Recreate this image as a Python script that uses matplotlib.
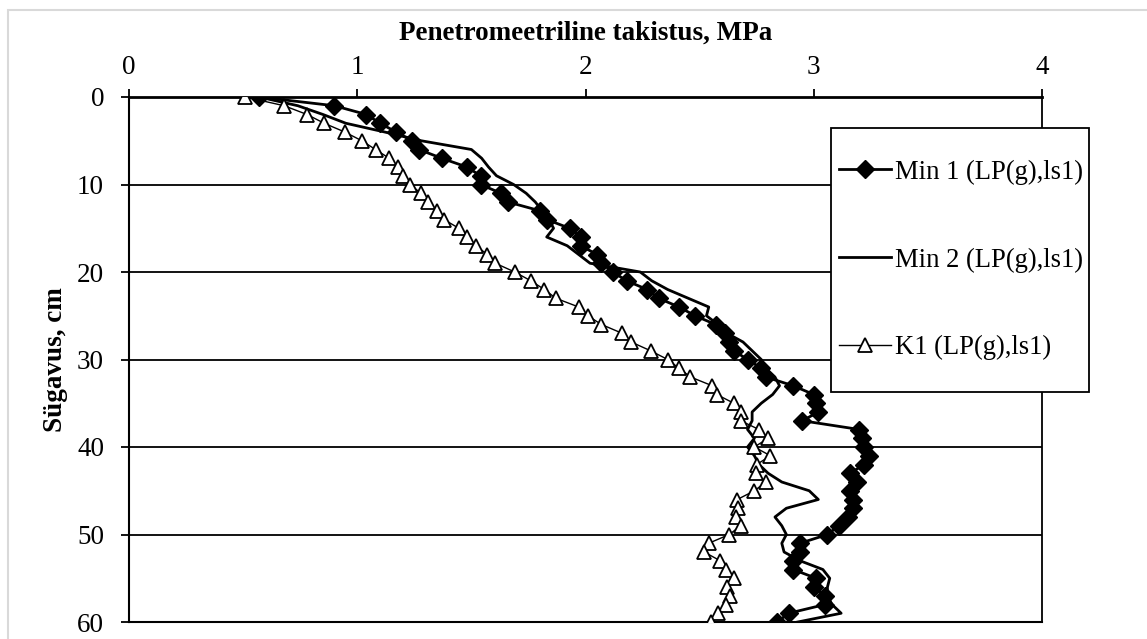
import matplotlib
matplotlib.use('Agg')
import matplotlib.pyplot as plt
from matplotlib.patches import Rectangle

# sügavus, cm (iga 1 cm tagant)
depth = list(range(61))

min1 = [0.57, 0.90, 1.04, 1.10, 1.17, 1.24, 1.27, 1.37, 1.48, 1.54,
        1.54, 1.63, 1.66, 1.80, 1.83, 1.93, 1.98, 1.98, 2.05, 2.07,
        2.12, 2.18, 2.27, 2.32, 2.41, 2.48, 2.57, 2.61, 2.63, 2.65,
        2.71, 2.77, 2.79, 2.91, 3.00, 3.01, 3.02, 2.95, 3.20, 3.21,
        3.22, 3.24, 3.22, 3.16, 3.19, 3.16, 3.17, 3.17, 3.15, 3.11,
        3.06, 2.94, 2.94, 2.91, 2.91, 3.01, 3.00, 3.05, 3.05, 2.89,
        2.84]

min2 = [0.57, 0.74, 0.85, 0.95, 1.12, 1.28, 1.50, 1.545, 1.575, 1.61,
        1.685, 1.74, 1.78, 1.81, 1.84, 1.86, 1.83, 1.92, 1.97, 2.02,
        2.24, 2.29, 2.36, 2.45, 2.54, 2.53, 2.58, 2.62, 2.69, 2.73,
        2.77, 2.79, 2.83, 2.85, 2.82, 2.77, 2.73, 2.73, 2.71, 2.74,
        2.71, 2.74, 2.76, 2.80, 2.86, 2.98, 3.02, 2.88, 2.83, 2.86,
        2.88, 2.86, 2.87, 2.94, 3.04, 3.07, 3.06, 3.06, 3.08, 3.12,
        2.93]

k1 = [0.51, 0.68, 0.78, 0.855, 0.945, 1.02, 1.08, 1.14, 1.18, 1.20,
      1.23, 1.28, 1.31, 1.35, 1.38, 1.445, 1.48, 1.52, 1.57, 1.605,
      1.69, 1.76, 1.82, 1.87, 1.97, 2.01, 2.07, 2.16, 2.20, 2.285,
      2.36, 2.41, 2.46, 2.555, 2.575, 2.65, 2.68, 2.68, 2.76, 2.80,
      2.74, 2.81, 2.75, 2.745, 2.79, 2.74, 2.665, 2.67, 2.66, 2.68,
      2.63, 2.54, 2.52, 2.59, 2.615, 2.65, 2.62, 2.635, 2.615, 2.58,
      2.55]

x_ticks = [0, 1, 2, 3, 4]
y_ticks = [0, 10, 20, 30, 40, 50, 60]

plt.rcParams['font.family'] = ['Liberation Serif', 'DejaVu Serif']
fs = 19.5

W, H = 1147, 639
fig = plt.figure(figsize=(W / 100, H / 100), dpi=100)

# hall raam ümber joonise
fig.patches.append(Rectangle((8 / W, -0.1), 1.2, 1 - 10 / H + 0.1, transform=fig.transFigure,
                             fill=False, edgecolor='#d9d9d9', lw=1.5))

ax = fig.add_axes([129 / W, 1 - 622 / H, (1042 - 129) / W, (622 - 97) / H])

l1, = ax.plot(min1, depth, color='black', lw=2, marker='D', ms=9, zorder=4,
              label='Min 1 (LP(g),ls1)')
l2, = ax.plot(min2, depth, color='black', lw=2, zorder=3,
              label='Min 2 (LP(g),ls1)')
l3, = ax.plot(k1, depth, color='black', lw=1, marker='^', ms=10, mfc='white',
              mew=1.3, zorder=5, label='K1 (LP(g),ls1)')

ax.set_xlim(0, 4)
ax.set_ylim(60, 0)
ax.set_xticks(x_ticks)
ax.set_yticks(y_ticks)
ax.xaxis.tick_top()
ax.tick_params(axis='x', direction='out', length=6, width=1.3, pad=6, labelsize=fs)
ax.tick_params(axis='y', direction='out', length=6, width=1.3, pad=12, labelsize=fs)
ax.yaxis.grid(True, color='black', lw=1.3)
ax.set_axisbelow(True)
ax.spines['top'].set_linewidth(2)
ax.spines['left'].set_linewidth(1.5)
ax.spines['right'].set_linewidth(1.3)
ax.spines['bottom'].set_linewidth(1.5)

fig.text(585.5 / W, 1 - 40 / H, 'Penetromeetriline takistus, MPa', ha='center',
         va='baseline', weight='bold', size=fs)
fig.text(55 / W, 1 - 360 / H, 'Sügavus, cm', ha='center', va='center',
         rotation=90, weight='bold', size=fs)

# legendi kast
fig.patches.append(Rectangle((831 / W, 1 - 392 / H), (1089 - 831) / W, (392 - 128) / H,
                             transform=fig.transFigure, facecolor='white',
                             edgecolor='black', lw=1.3, zorder=10))
leg = fig.legend(handles=[l1, l2, l3], loc='center left',
                 bbox_to_anchor=(826 / W, 1 - 260 / H), frameon=False,
                 fontsize=19.2, borderpad=0, labelspacing=2.35,
                 handlelength=1.95, handletextpad=0.15)
leg.set_zorder(11)

fig.savefig('out.png', dpi=100)
